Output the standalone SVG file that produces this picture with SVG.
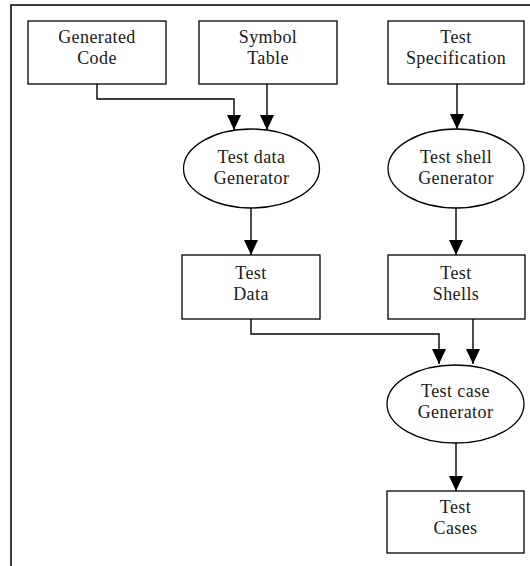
<svg xmlns="http://www.w3.org/2000/svg" width="530" height="566" viewBox="0 0 530 566">
<style>
.box{fill:#fff;stroke:#000;stroke-width:1.3}
.ell{fill:#fff;stroke:#000;stroke-width:1.3}
.lbl{font-family:"Liberation Serif","Times New Roman",serif;font-size:18px;letter-spacing:0.4px;fill:#1a1a1a;text-anchor:middle}
.conn{fill:none;stroke:#000;stroke-width:1.4}
.frame{fill:none;stroke:#000;stroke-width:1.5}
</style>
<defs>
<marker id="arr" viewBox="0 0 15 14" refX="15" refY="7" markerWidth="15" markerHeight="14" markerUnits="userSpaceOnUse" orient="auto">
<path d="M0,0 L15,7 L0,14 Z" fill="#000"/>
</marker>
</defs>
<rect width="530" height="566" fill="#fff"/>
<path class="frame" d="M11,566 V5 H530"/>
<g id="generated-code"><rect class="box" x="28" y="21" width="138" height="63"/><text class="lbl" x="97" y="43">Generated</text><text class="lbl" x="97" y="64">Code</text></g>
<g id="symbol-table"><rect class="box" x="199" y="21" width="138" height="63"/><text class="lbl" x="268" y="43">Symbol</text><text class="lbl" x="268" y="64">Table</text></g>
<g id="test-specification"><rect class="box" x="388" y="21" width="136" height="63"/><text class="lbl" x="456" y="43">Test</text><text class="lbl" x="456" y="64">Specification</text></g>
<g id="test-data-generator"><ellipse class="ell" cx="251.5" cy="168.5" rx="68" ry="39.5"/><text class="lbl" x="251.5" y="163">Test data</text><text class="lbl" x="251.5" y="184">Generator</text></g>
<g id="test-shell-generator"><ellipse class="ell" cx="456" cy="168.5" rx="68" ry="39.5"/><text class="lbl" x="456" y="163">Test shell</text><text class="lbl" x="456" y="184">Generator</text></g>
<g id="test-data"><rect class="box" x="182" y="255" width="138" height="64"/><text class="lbl" x="251" y="279">Test</text><text class="lbl" x="251" y="300">Data</text></g>
<g id="test-shells"><rect class="box" x="388" y="255" width="137" height="64"/><text class="lbl" x="456" y="279">Test</text><text class="lbl" x="456" y="300">Shells</text></g>
<g id="test-case-generator"><ellipse class="ell" cx="455.5" cy="404" rx="68.5" ry="39"/><text class="lbl" x="455.5" y="397">Test case</text><text class="lbl" x="455.5" y="418">Generator</text></g>
<g id="test-cases"><rect class="box" x="387" y="491" width="137" height="62"/><text class="lbl" x="455.5" y="513">Test</text><text class="lbl" x="455.5" y="534">Cases</text></g>
<g id="connectors">
<path class="conn" d="M97,84 V99 H234 V130" marker-end="url(#arr)"/>
<path class="conn" d="M267,84 V130" marker-end="url(#arr)"/>
<path class="conn" d="M457,84 V129" marker-end="url(#arr)"/>
<path class="conn" d="M251,208 V255" marker-end="url(#arr)"/>
<path class="conn" d="M456,208 V255" marker-end="url(#arr)"/>
<path class="conn" d="M251,319 V334 H439 V364" marker-end="url(#arr)"/>
<path class="conn" d="M473,319 V364" marker-end="url(#arr)"/>
<path class="conn" d="M456,443 V491" marker-end="url(#arr)"/>
</g>
</svg>
